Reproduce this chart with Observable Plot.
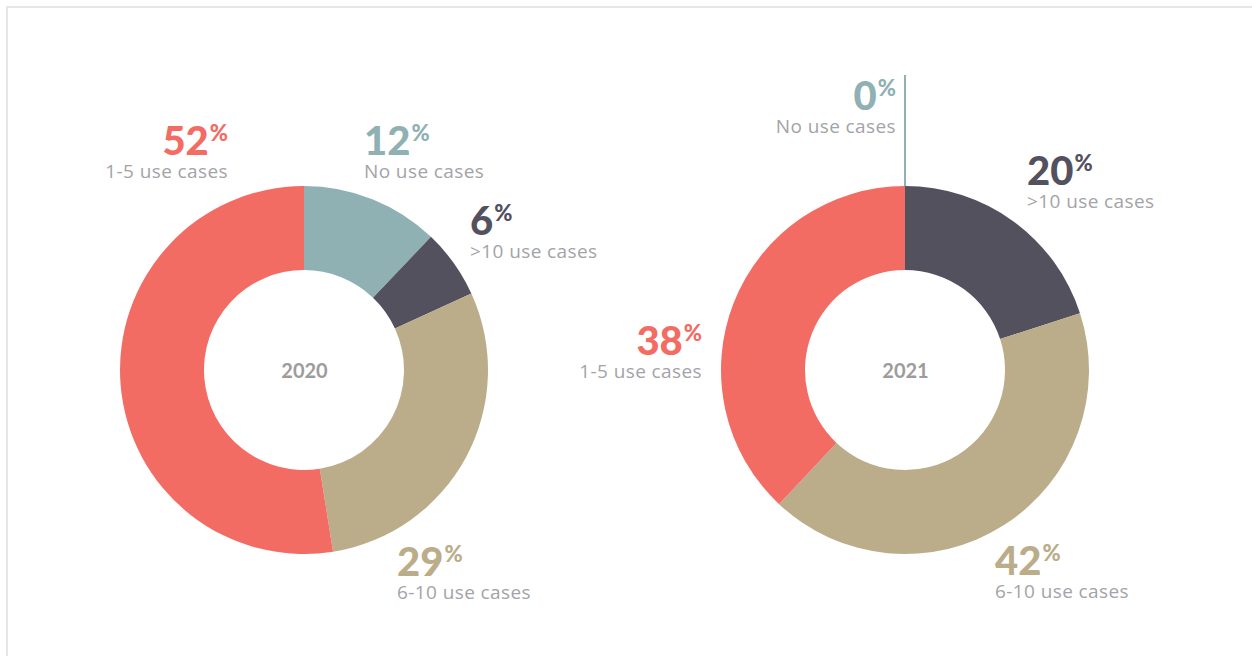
<!DOCTYPE html>
<html><head><meta charset="utf-8">
<script src="https://cdn.jsdelivr.net/npm/d3@7"></script>
<script src="https://cdn.jsdelivr.net/npm/@observablehq/plot@0.6"></script>
<style>
body{margin:0;background:#fff;overflow:hidden;}
#frame{position:absolute;left:6px;top:6px;width:1400px;height:800px;border-top:2px solid #e6e6e6;border-left:2px solid #e6e6e6;}
#chart{position:absolute;left:0;top:0;}
</style></head><body><div id="frame"></div><div id="chart"></div>
<script>
// ---- data ----
const years = ["2020", "2021"];
const categories = ["No use cases", ">10 use cases", "6-10 use cases", "1-5 use cases"];
const colors = ["#8fb1b4", "#54515f", "#bbad8a", "#f26c64"];
const values2020 = [12, 6, 29, 52];
const values2021 = [0, 20, 42, 38];

// ---- layout (label offsets relative to each donut centre) ----
const labelLayout = {
  "2020": [
    {dx: 60, dy: -215, anchor: "start"},
    {dx: 166, dy: -135, anchor: "start"},
    {dx: 93, dy: 206, anchor: "start"},
    {dx: -76, dy: -215, anchor: "end"}
  ],
  "2021": [
    {dx: -9, dy: -260, anchor: "end"},
    {dx: 122, dy: -185, anchor: "start"},
    {dx: 90, dy: 205, anchor: "start"},
    {dx: -203, dy: -15, anchor: "end"}
  ]
};
const innerR = 100, outerR = 184, leaderLen = 111;
const numFont = "Lato, 'Open Sans', sans-serif";
const subFont = "'Open Sans', Lato, sans-serif";

const seriesByYear = {"2020": values2020, "2021": values2021};
const rows = years.flatMap(year => categories.map((c, i) => ({year, category: c, value: seriesByYear[year][i], color: colors[i], i})));

function donuts(index, scales, values, dimensions) {
  const {marginTop, marginBottom, height} = dimensions;
  const cy = marginTop + (height - marginTop - marginBottom) / 2;
  const g = d3.create("svg:g");
  const arc = d3.arc().innerRadius(innerR).outerRadius(outerR);
  for (const year of years) {
    const cx = scales.x(year);
    const data = rows.filter(r => r.year === year);
    const pie = d3.pie().sort(null).value(d => d.value)(data);
    const gg = g.append("g").attr("transform", `translate(${cx},${cy})`);
    gg.selectAll("path").data(pie).join("path")
      .attr("d", arc).attr("fill", d => d.data.color);
    for (const p of pie) {
      if (p.data.value === 0) {
        const a = p.startAngle;
        gg.append("line")
          .attr("x1", Math.sin(a) * outerR).attr("y1", -Math.cos(a) * outerR)
          .attr("x2", Math.sin(a) * (outerR + leaderLen)).attr("y2", -Math.cos(a) * (outerR + leaderLen))
          .attr("stroke", p.data.color).attr("stroke-width", 2);
      }
    }
    for (const p of pie) {
      const L = labelLayout[year][p.data.i];
      const t = gg.append("text").attr("x", L.dx).attr("y", L.dy).attr("text-anchor", L.anchor)
        .attr("fill", p.data.color).attr("font-family", numFont);
      t.append("tspan").attr("font-size", 40).attr("font-weight", 900).text(Math.round(p.data.value));
      t.append("tspan").attr("font-size", 22).attr("font-weight", 900).attr("dy", -14).attr("dx", 1).text("%");
      gg.append("text").attr("x", L.dx).attr("y", L.dy + 23).attr("text-anchor", L.anchor)
        .attr("fill", "#a3a3a8").attr("font-family", subFont).attr("font-size", 19)
        .attr("letter-spacing", 0.4)
        .text(p.data.category);
    }
  }
  return g.node();
}

const chart = Plot.plot({
  width: 1252,
  height: 656,
  marginTop: 84,
  marginBottom: 0,
  marginLeft: 0,
  marginRight: 0,
  x: {type: "point", domain: years, range: [304, 905], padding: 0, axis: null},
  marks: [
    donuts,
    Plot.text(years, {x: d => d, text: d => d, frameAnchor: "middle", fontSize: 20, fontWeight: 700, fill: "#9c9c9c", fontFamily: numFont, dy: 1})
  ]
});
chart.style.background = "transparent";
document.getElementById("chart").appendChild(chart);
</script>
</body></html>
